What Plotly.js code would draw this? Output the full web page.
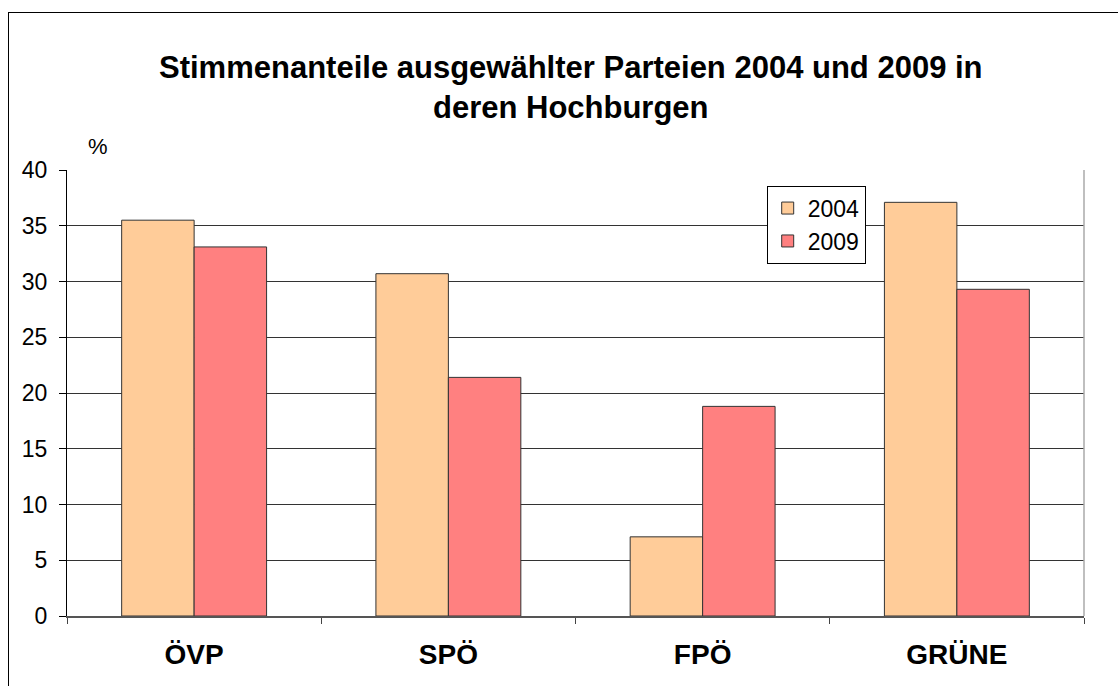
<!DOCTYPE html>
<html>
<head>
<meta charset="utf-8">
<script src="https://cdn.plot.ly/plotly-3.0.1.min.js"></script>
<style>
html,body{margin:0;padding:0;background:#fff;overflow:hidden;}
#chart{width:1118px;height:686px;position:relative;}
#frame{position:absolute;left:8px;top:12px;width:1200px;height:800px;border-left:1.5px solid #000;border-top:1.5px solid #000;pointer-events:none;}
</style>
</head>
<body>
<div id="chart"></div>
<div id="frame"></div>
<script>
const categories = ["ÖVP", "SPÖ", "FPÖ", "GRÜNE"];
const values2004 = [35.5, 30.7, 7.1, 37.1];
const values2009 = [33.1, 21.4, 18.8, 29.3];
const seriesNames = ["2004", "2009"];
const titleLines = ["Stimmenanteile ausgewählter Parteien 2004 und 2009 in", "deren Hochburgen"];

const font = "Liberation Sans, Arial, Helvetica, sans-serif";

const traces = [
  {type: "bar", name: seriesNames[0], x: categories, y: values2004,
   marker: {color: "#FFCC99", line: {color: "#333333", width: 1}}},
  {type: "bar", name: seriesNames[1], x: categories, y: values2009,
   marker: {color: "#FF8080", line: {color: "#333333", width: 1}}}
];

const layout = {
  width: 1118, height: 686,
  margin: {l: 67, r: 34, t: 170, b: 70, pad: 0},
  paper_bgcolor: "#ffffff", plot_bgcolor: "#ffffff",
  font: {family: font, color: "#000"},
  barmode: "group", bargap: 0.43, bargroupgap: 0,
  showlegend: true,
  legend: {x: 0.688, y: 0.965, xanchor: "left", yanchor: "top",
           bgcolor: "#ffffff", bordercolor: "#000", borderwidth: 1,
           font: {size: 23, family: font, color: "#000"}, tracegroupgap: 2,
           itemwidth: 30},
  xaxis: {type: "category", showgrid: false, showline: true, linecolor: "#555", linewidth: 1.5,
          ticks: "outside", tickson: "boundaries", ticklen: 6, tickcolor: "#444", tickwidth: 1,
          tickfont: {size: 28, family: font, color: "#000", weight: "bold"},
          ticklabelstandoff: 13, zeroline: false},
  yaxis: {range: [0, 40], dtick: 5, tick0: 0, showgrid: true, gridcolor: "#333", gridwidth: 1,
          showline: true, linecolor: "#000", linewidth: 1, ticks: "outside", ticklen: 7,
          tickcolor: "#000", tickfont: {size: 23, family: font, color: "#000"},
          ticklabelstandoff: 7, zeroline: false},
  shapes: [
    {type: "line", xref: "paper", yref: "paper", x0: 1, x1: 1, y0: 0, y1: 1,
     line: {color: "#aaa", width: 1.5}}
  ],
  annotations: [
    {text: "<b>" + titleLines.join("<br>") + "</b>", xref: "paper", yref: "paper",
     x: 0.4955, y: 1.0 + (170 - 88) / 446,
     xanchor: "center", yanchor: "middle", showarrow: false,
     font: {size: 31, family: font, color: "#000"}},
    {text: "%", xref: "paper", yref: "paper", x: 0.03, y: 1.0 + (170 - 147) / 446, xanchor: "center", yanchor: "middle",
     showarrow: false, font: {size: 22, family: font, color: "#000"}}
  ]
};

Plotly.newPlot("chart", traces, layout, {displayModeBar: false, staticPlot: true});
</script>
</body>
</html>
